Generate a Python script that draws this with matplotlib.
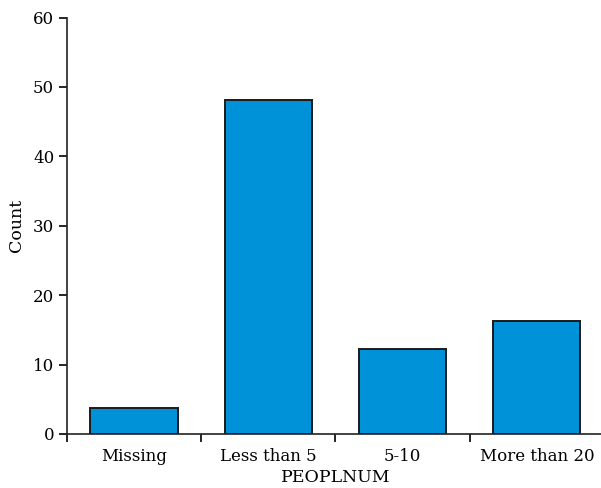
import matplotlib
matplotlib.use("Agg")
import matplotlib.pyplot as plt
import numpy as np

categories = ["Missing", "Less than 5", "5-10", "More than 20"]
counts = [3.8, 48.1, 12.2, 16.3]
yticks = [0, 10, 20, 30, 40, 50, 60]

plt.rcParams['font.family'] = ['DejaVu Serif']

fig = plt.figure(figsize=(6.01, 4.88), dpi=100)
left_px, right_px, bottom_px, top_px = 66.7, 604, 434, 17.5
ax = fig.add_axes([left_px/601, 1-bottom_px/488, (right_px-left_px)/601, (bottom_px-top_px)/488])

x = np.arange(len(categories))
ax.bar(x, counts, width=0.65, color='#0092d8', edgecolor='#1a1a1a', linewidth=1.4)

ax.set_xlim(-0.5, len(categories) - 0.5)
ax.set_ylim(0, 60)
ax.set_yticks(yticks)
ax.set_yticklabels([str(t) for t in yticks], fontsize=12)

ax.set_xticks(np.arange(len(categories) + 1) - 0.5)
ax.set_xticklabels([])
ax.set_xticks(x, minor=True)
ax.set_xticklabels(categories, minor=True, fontsize=12)
ax.tick_params(axis='x', which='minor', length=0, pad=10)
ax.tick_params(axis='x', which='major', length=6, width=1.2, direction='out')
ax.tick_params(axis='y', length=6, width=1.2, direction='out', pad=3)

for s in ['top', 'right']:
    ax.spines[s].set_visible(False)
for s in ['left', 'bottom']:
    ax.spines[s].set_linewidth(1.2)
    ax.spines[s].set_color('#222222')

ax.set_xlabel("PEOPLNUM", fontsize=12.5, labelpad=3)
ax.set_ylabel("Count", fontsize=12.5, labelpad=6)

fig.savefig("out.png", dpi=100)
